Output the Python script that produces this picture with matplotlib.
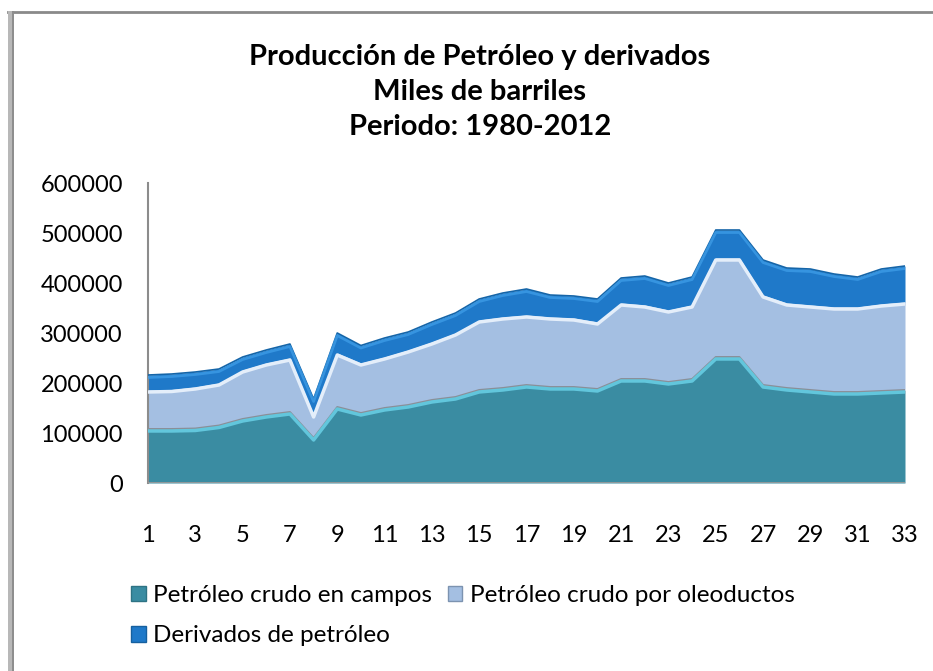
import matplotlib
matplotlib.use("Agg")
import matplotlib.pyplot as plt
import numpy as np
from matplotlib.patches import Rectangle
from matplotlib.lines import Line2D

years = list(range(1, 34))
campos = [108000, 108000, 109000, 115000, 128000, 136000, 142000, 90000, 152000, 140000,
          150000, 156000, 166000, 172000, 186000, 190000, 196000, 192000, 192000, 188000,
          208000, 208000, 202000, 208000, 252000, 252000, 196000, 190000, 186000, 182000,
          182000, 184000, 186000]
oleoductos = [78000, 79000, 83000, 85000, 98000, 104000, 108000, 46000, 108000, 100000,
              102000, 110000, 116000, 128000, 140000, 142000, 140000, 140000, 138000, 134000,
              152000, 148000, 144000, 148000, 198000, 198000, 180000, 170000, 170000, 170000,
              170000, 174000, 176000]
derivados = [30000, 31000, 30000, 28000, 26000, 26000, 28000, 32000, 40000, 35000,
             38000, 36000, 40000, 40000, 42000, 48000, 52000, 44000, 44000, 46000,
             50000, 58000, 54000, 56000, 56000, 56000, 70000, 70000, 72000, 66000,
             60000, 70000, 72000]
labels = ["Petróleo crudo en campos", "Petróleo crudo por oleoductos", "Derivados de petróleo"]
title = "Producción de Petróleo y derivados\nMiles de barriles\nPeriodo: 1980-2012"

colors = ["#3A8CA2", "#A4BFE2", "#1F79C9"]
hl = ["#62C6DC", "#E4EEFA", "#3C9BE6"]

plt.rcParams['font.family'] = ['Lato', 'DejaVu Sans']

fig = plt.figure(figsize=(9.33, 6.71), dpi=100)
ax = fig.add_axes([148/933, 1-483/671, (905-148)/933, 300/671])

x = np.array(years)
c = np.array(campos)
m = c + np.array(oleoductos)
t = m + np.array(derivados)

ax.fill_between(x, 0, c, color=colors[0], lw=0, zorder=2)
ax.fill_between(x, c, m, color=colors[1], lw=0, zorder=2)
ax.fill_between(x, m, t, color=colors[2], lw=0, zorder=2)
# bevel-like edges
ax.plot(x, t, color="#1565A8", lw=1.2, zorder=3)
ax.plot(x, t - 5000, color=hl[2], lw=2.0, zorder=3, alpha=0.8)
ax.plot(x, m - 4000, color=hl[1], lw=2.5, zorder=3)
ax.plot(x, c, color="#8A8F98", lw=1.4, zorder=3)
ax.plot(x, c - 4000, color=hl[0], lw=2.5, zorder=3)
ax.axhline(0, color="#9A9A9A", lw=2, zorder=4)

ax.set_xlim(1, 33)
ax.set_ylim(0, 600000)
ax.set_yticks(range(0, 600001, 100000))
ax.set_yticklabels([str(v) for v in range(0, 600001, 100000)])
ax.set_xticks(years[::2])
ax.set_xticklabels([str(v) for v in years[::2]])
ax.tick_params(axis='y', length=0, pad=18, labelsize=17)
ax.tick_params(axis='x', length=0, pad=30, labelsize=17)
for s in ["top", "right", "bottom"]:
    ax.spines[s].set_visible(False)
ax.spines["left"].set_color("#8C8C8C")
ax.spines["left"].set_linewidth(1.5)

fig.text(480/933, 1-92/671, title, ha="center", va="center", fontsize=21,
         fontweight="bold", linespacing=1.42)

handles = [Rectangle((0, 0), 1, 1, facecolor=colors[0], edgecolor="#2E7384"),
           Rectangle((0, 0), 1, 1, facecolor=colors[2], edgecolor="#16609F"),
           Rectangle((0, 0), 1, 1, facecolor=colors[1], edgecolor="#7C93B0")]
hlabels = [labels[0], labels[2], labels[1]]
leg = fig.legend(handles, hlabels, ncol=2, loc="upper left",
                 bbox_to_anchor=(131/933, 1-585/671), frameon=False,
                 prop={'size': 17.5},
                 handlelength=0.6, handleheight=0.6, handletextpad=0.3,
                 columnspacing=0.65, labelspacing=0.8, borderpad=0, borderaxespad=0)

# frame
fig.patches.append(Rectangle((8/933, 0), 6/933, 1-11/671, transform=fig.transFigure,
                             facecolor="#B8B8B8", edgecolor="none", zorder=5))
fig.patches.append(Rectangle((12/933, 0), 2/933, 1-11/671, transform=fig.transFigure,
                             facecolor="#8E8E8E", edgecolor="none", zorder=5))
fig.lines.append(Line2D([8/933, 1], [1-12/671, 1-12/671], transform=fig.transFigure,
                        color="#8A8A8A", lw=2))

fig.savefig("out.png", dpi=100)
